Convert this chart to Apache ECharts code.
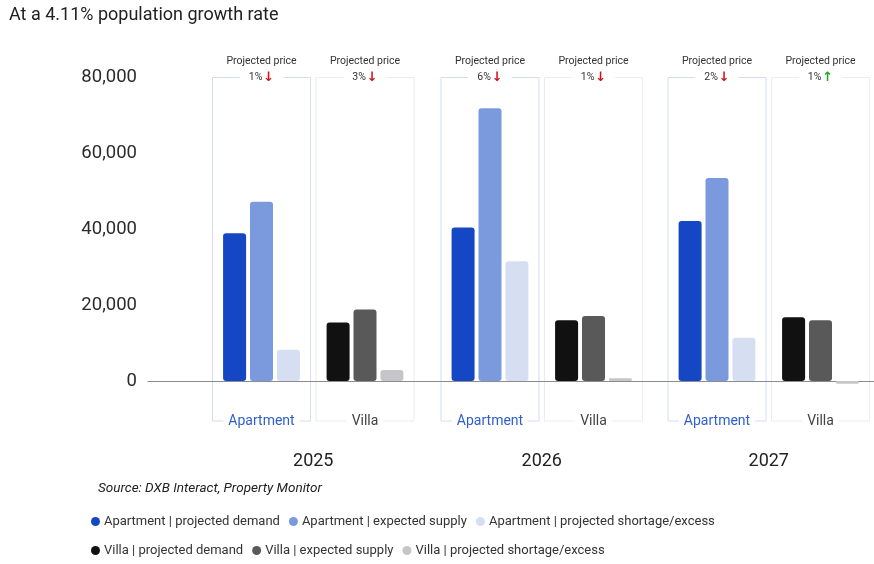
<!DOCTYPE html>
<html>
<head>
<meta charset="utf-8">
<script src="https://cdn.jsdelivr.net/npm/echarts@6/dist/echarts.min.js"></script>
<style>html,body{margin:0;padding:0;background:#fff;}#c{width:874px;height:564px;}</style>
</head>
<body>
<div id="c"></div>
<script>
// ---- data ----
const years = ['2025', '2026', '2027'];
const types = ['Apartment', 'Villa'];
const yTicks = [0, 20000, 40000, 60000, 80000];
const aptDemand = [38900, 40400, 42100];
const aptSupply = [47200, 71800, 53400];
const aptGap = [8200, 31500, 11400];
const villaDemand = [15400, 16000, 16800];
const villaSupply = [18800, 17100, 16000];
const villaGap = [2900, 700, -700];
const aptPrice = [-1, -6, -2];
const villaPrice = [-3, -1, 1];
const seriesNames = [
  'Apartment | projected demand', 'Apartment | expected supply', 'Apartment | projected shortage/excess',
  'Villa | projected demand', 'Villa | expected supply', 'Villa | projected shortage/excess'
];
// ---- styles ----
const colors = ['#1546c4', '#7b9ade', '#d6dff2', '#111111', '#595959', '#c6c6ca'];
const FONT = 'Roboto';
const gridLefts = [209.75, 438.25, 665.25];
const gridW = 207, gridTop = 77, gridH = 304;

const chart = echarts.init(document.getElementById('c'), null, {renderer: 'canvas'});

const grids = [{left: 148, right: 0, top: gridTop, height: gridH}];
const xAxes = [{
  gridIndex: 0, type: 'category', data: years, position: 'bottom', z: 0,
  axisLine: {show: true, lineStyle: {color: '#8c8c8c', width: 1.2}},
  axisTick: {show: false}, axisLabel: {show: false}
}];
const yAxes = [{
  gridIndex: 0, type: 'value', min: yTicks[0], max: yTicks[yTicks.length - 1], interval: yTicks[1] - yTicks[0],
  axisLine: {show: false}, axisTick: {show: false}, splitLine: {show: false},
  axisLabel: {
    color: '#2b2b2b', fontSize: 18.5, fontFamily: FONT, margin: 11,
    formatter: v => v.toLocaleString('en-US')
  }
}];
const series = [];

years.forEach((yr, g) => {
  const gi = g + 1;
  grids.push({left: gridLefts[g], width: gridW, top: gridTop, height: gridH});
  const base = xAxes.length;
  // bottom category axis (Apartment / Villa)
  xAxes.push({
    gridIndex: gi, type: 'category', data: types, position: 'bottom', z: 10,
    axisLine: {show: false}, axisTick: {show: false},
    axisLabel: {
      interval: 0, margin: 31, fontFamily: FONT, fontSize: 14,
      backgroundColor: '#fff', padding: [2, 5],
      color: (v) => v === 'Apartment' ? '#2f5fcf' : '#444'
    }
  });
  // top axis: projected price
  const prices = [aptPrice[g], villaPrice[g]];
  xAxes.push({
    gridIndex: gi, type: 'category', data: types, position: 'top', z: 10,
    axisLine: {show: false}, axisTick: {show: false},
    axisLabel: {
      interval: 0, margin: -8, fontFamily: FONT,
      formatter: (v, i) => {
        const p = prices[i];
        return '{t|Projected price}\n{p|' + Math.abs(p) + '%}' + (p < 0 ? '{dn|↓}' : '{up|↑}');
      },
      rich: {
        t: {fontSize: 10.5, color: '#333', lineHeight: 16, fontFamily: FONT, padding: [0, 0, 1, 0]},
        p: {fontSize: 10.5, color: '#333', lineHeight: 15, fontFamily: FONT, backgroundColor: '#fff', padding: [0, 1, 0, 9]},
        dn: {fontSize: 13, color: '#d0101a', fontWeight: 'bold', fontFamily: 'DejaVu Sans', lineHeight: 15, backgroundColor: '#fff', padding: [0, 9, 0, 0]},
        up: {fontSize: 13, color: '#2aa82a', fontWeight: 'bold', fontFamily: 'DejaVu Sans', lineHeight: 15, backgroundColor: '#fff', padding: [0, 9, 0, 0]}
      }
    }
  });
  // year axis
  xAxes.push({
    gridIndex: gi, type: 'category', data: [yr], position: 'bottom',
    axisLine: {show: false}, axisTick: {show: false},
    axisLabel: {margin: 71, fontFamily: FONT, fontSize: 18, color: '#222'}
  });
  yAxes.push({
    gridIndex: gi, type: 'value', min: yTicks[0], max: yTicks[yTicks.length - 1], interval: yTicks[1] - yTicks[0], show: false
  });
  const vals = [
    [aptDemand[g], '-'], [aptSupply[g], '-'], [aptGap[g], '-'],
    ['-', villaDemand[g]], ['-', villaSupply[g]], ['-', villaGap[g]]
  ];
  const stacks = ['d', 's', 'x', 'd', 's', 'x'];
  seriesNames.forEach((nm, k) => {
    series.push({
      name: nm, type: 'bar', xAxisIndex: base, yAxisIndex: gi,
      stack: stacks[k] + g, data: vals[k], barWidth: 23, barGap: '17%',
      clip: false, z: 5,
      itemStyle: {color: colors[k], borderRadius: 3},
      emphasis: {disabled: true}
    });
  });
});

const legendCommon = {
  icon: 'circle', itemWidth: 9, itemHeight: 9, itemGap: 9,
  textStyle: {fontFamily: FONT, fontSize: 13, color: '#333', padding: [0, 0, 0, -1]}
};

chart.setOption({
  animation: false,
  title: [
    {text: 'At a 4.11% population growth rate', left: 4, top: 1,
      textStyle: {fontFamily: FONT, fontSize: 18, fontWeight: 'normal', color: '#222'}},
    {text: 'Source: DXB Interact, Property Monitor', left: 93, top: 477,
      textStyle: {fontFamily: FONT, fontSize: 13.5, fontStyle: 'italic', fontWeight: 'normal', color: '#222'}}
  ],
  legend: [
    Object.assign({data: seriesNames.slice(0, 3), left: 86, top: 510}, legendCommon),
    Object.assign({data: seriesNames.slice(3), left: 86, top: 539}, legendCommon)
  ],
  color: colors,
  grid: grids,
  xAxis: xAxes,
  yAxis: yAxes,
  series: series
});

// boxes around each Apartment / Villa group, positioned by the axes' scales
const boxes = [];
years.forEach((yr, g) => {
  const gi = g + 1;
  const p0 = chart.convertToPixel({gridIndex: gi}, [0, yTicks[yTicks.length - 1]]);
  const p1 = chart.convertToPixel({gridIndex: gi}, [1, yTicks[0]]);
  const band = p1[0] - p0[0];
  const w = band - 5.5;
  const topY = p0[1] + 0.5;
  const botY = p1[1] + 40;
  [p0[0], p1[0]].forEach((cx, i) => {
    boxes.push({
      type: 'rect', z: 0, silent: true,
      shape: {x: cx - w / 2, y: topY, width: w, height: botY - topY},
      style: {fill: null, stroke: i === 0 ? '#d2ddf4' : '#ececec', lineWidth: 1}
    });
  });
});
chart.setOption({graphic: boxes});
</script>
</body>
</html>
